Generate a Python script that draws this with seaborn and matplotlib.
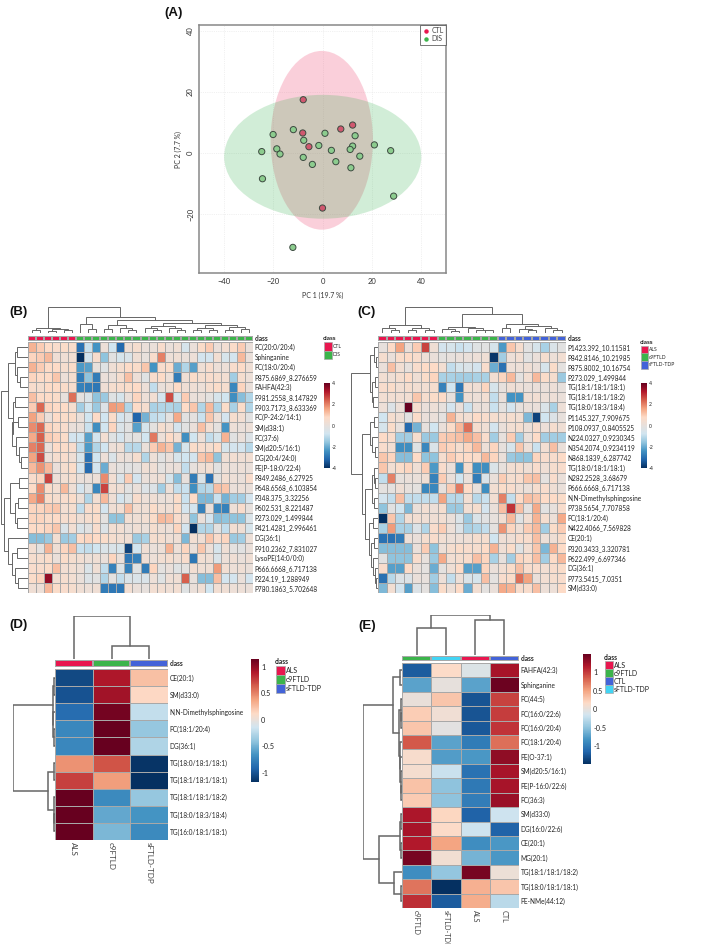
import numpy as np
import pandas as pd
import matplotlib
matplotlib.use('Agg')
import matplotlib.pyplot as plt
import seaborn as sns
from matplotlib.colors import ListedColormap, LinearSegmentedColormap
from matplotlib.patches import Ellipse, Rectangle

W, H = 709, 944

# panel A
ctl_x = [-7.8, -8, -5.5, 7.4, 12.2, 0]
ctl_y = [17.5, 6.6, 2.1, 7.9, 9.2, -18]
dis_x = [-11.8, -20, -7.6, 1, 13.2, -24.6, -18.5, -17.2, -1.5, 3.6, 12.2, 11.2, 21, 27.6, 15.1, -7.8, -4.1, 5.4, 11.5, -24.3, 28.8, -12]
dis_y = [7.7, 6.1, 4.2, 6.5, 5.7, 0.5, 1.4, -0.3, 2.5, 0.9, 2.3, 1.2, 2.7, 0.8, -1, -1.4, -3.7, -2.8, -4.8, -8.4, -14.1, -30.9]
ctl_ellipse = [-0.3, 4.2, 20.7, 29.3]
dis_ellipse = [0.1, -1.2, 39.9, 20.3]

# panel B
b_labels = ['PC(20:0/20:4)', 'Sphinganine', 'PC(18:0/20:4)', 'P875.6869_8.276659', 'FAHFA(42:3)', 'P981.2558_8.147829',
            'P903.7173_8.633369', 'PC(P-24:2/14:1)', 'SM(d38:1)', 'PC(37:6)', 'SM(d20:5/16:1)', 'DG(20:4/24:0)',
            'PE(P-18:0/22:4)', 'P849.2486_6.27925', 'P648.6568_6.103854', 'P348.375_3.32256', 'P602.531_8.221487',
            'P273.029_1.499844', 'P421.4281_2.996461', 'DG(36:1)', 'P910.2362_7.831027', 'LysoPE(14:0/0:0)',
            'P666.6668_6.717138', 'P224.19_1.288949', 'P780.1863_5.702648']
b_classes = ['CTL'] * 6 + ['DIS'] * 22
b_values = [
    [1.4, 1.0, .8, .6, .7, .6, -3.0, -.9, -2.4, .2, -.8, -3.1, .3, .5, .1, .1, .6, .1, .3, -.6, .1, .7, 1.0, .1, .4, .7, 1.0, .1],
    [.9, 1.0, 1.3, .3, .3, .4, -4, -.7, .6, -1.6, -.2, -.6, -.5, .3, 0, .6, 2.0, .2, .3, .1, .2, -.7, -.7, .4, -.6, -.7, 1.3, .1],
    [1.4, 1.0, .8, .8, .5, .7, -2.3, -2.2, 0, -.3, .3, .5, .8, .7, 1.1, -2.4, .6, .7, -2, -1.2, -2.2, .3, .6, .2, .2, .6, .8, .3],
    [.9, .8, .8, 1.1, .2, .5, -2.8, -1.6, -2.8, .1, .1, .5, 1.2, .2, -.3, .6, .8, .2, -2.8, .3, .7, .5, .6, .5, .4, -1.4, .5, .2],
    [.6, .5, .8, .8, .7, .6, -2.7, -2.8, -2.9, .3, .5, .6, .7, .8, .2, -1, .1, .3, .8, .3, .3, .2, .5, .7, .5, -2.6, .9, .1],
    [1.2, .8, .8, .7, 0, 2.2, -.1, -.5, -1.6, -1.5, -.3, -.6, .1, .9, .2, .4, -.7, 2.6, -.6, 1.0, .1, .1, -.1, -.6, -.8, -2.5, -1.7, -1.2],
    [1.0, 2.3, .9, .8, .8, .5, -1.4, -.8, -1.5, -.4, 1.7, 1.6, -1.2, .8, .5, -1.3, -1.2, -1.2, -1.3, .8, 1.1, -1.2, 1.3, -1.2, .7, -1.3, .7, -1.2],
    [1.6, 1.0, .1, .8, .7, .7, .1, -.8, .8, -.8, .7, -.7, -.4, -3.2, -1.9, -1.0, -.9, -.1, 1.5, -.2, -.1, -.9, 1.1, .2, -.7, .5, .4, -.2],
    [1.9, 2.3, .9, .7, .6, .1, .1, -.9, -2.5, -.8, .9, -.5, -.2, -2.2, -.6, -.1, .5, .3, -.7, -.2, .1, 1.2, .4, -.1, -2.4, .2, .1, .2],
    [1.5, 2.4, 1.0, .9, .7, -.7, -.8, -2.2, -.7, .4, -.3, -.7, -.2, -.1, -.8, 2.1, .2, .8, .4, -2.5, -.8, .2, -1, -.6, 1.4, -.2, .1, -.4],
    [2.0, 2.3, .1, .8, .7, .6, -1, -2.3, -1.2, -.8, .2, .3, -1.1, -1.1, .1, 1, 1.4, 1.1, -1.9, -.6, .7, .6, .5, .8, -.6, -.7, -.7, -1.1],
    [1.6, 2.6, .2, .5, .6, .3, -.6, -3.0, -.8, .2, -.5, .2, .1, .5, -1.2, .2, -.2, .1, -.6, -.8, -.7, 1.1, 1.3, -1.6, .3, .4, .3, .4],
    [1.3, 1.8, 1.3, .1, .5, .7, -.7, -3.1, -.7, -2.0, .1, -.1, -.2, -.1, .3, .3, -.1, .1, .1, -1, 0, .3, .4, -.2, .2, .1, .2, .1],
    [.6, .9, 2.7, .2, .4, .5, .1, .1, .2, 1.9, .4, -.5, 1, -.7, .1, .2, .3, -.6, -1.7, 0, -2.8, -.5, -3.0, -.1, .4, .2, .1, .6],
    [.8, 1.9, .7, .4, 1.3, .3, -.7, -.2, -2.6, 2.7, .4, .3, -.2, .1, -.4, -.4, -1.4, .2, -1, -.9, -2.5, -1.2, -1.1, 1.2, 1.1, .1, .2, .1],
    [1.5, 2.0, .7, .5, .6, .7, .2, -1.2, .4, 1.3, .3, -.7, -.3, .6, .2, .3, .1, .2, .7, -.9, .8, -1.8, -1.8, -.9, -1.9, -1.4, -1.4, -.7],
    [.9, .9, 1, 1.1, .4, .5, -1, .6, .7, -.7, .3, .4, 1.2, .4, .3, .7, .4, .3, .7, -.7, -.7, -2.7, .1, -2.6, -2.7, .2, .6, 0],
    [.9, .9, .7, .8, .5, .6, .3, .5, .7, -.1, -1.6, -1.6, .4, .3, .4, .7, 1.3, 1.2, .6, .1, -1.6, .1, -.7, -1.7, -1.6, -1.6, -1.6, -.5],
    [.8, .8, .9, 1.1, -.5, .4, -.5, -.2, .6, -.4, .4, .4, .1, .3, .1, .5, .3, .2, .9, -.7, -4, -1.2, -1.2, -.1, -1.0, .4, .3, -.6],
    [-1.7, -1.7, -1.5, .4, -1.5, -1.4, .8, .9, .8, .7, .5, .4, .3, -1.5, -1.3, .5, .5, .3, .3, -1.8, .4, .3, 1.1, .6, .9, -1.5, -1.4, .2],
    [.4, -.1, 1.4, .3, .9, 1.2, -.9, -1, -.8, -.5, -.5, -.6, -3.7, -.8, .3, .1, .2, 1.4, .2, .9, .1, 1.1, .2, -.6, .3, -.1, -.2, .1],
    [.5, .5, .7, .1, .7, .5, .4, .2, .3, .1, .9, .1, -2.9, -2.7, .3, .2, .4, .5, .3, .6, -2.9, .4, .3, -.5, .2, .3, .1, .3],
    [.6, .6, .7, 1.2, .4, .4, .2, -.5, .3, -1, -2.7, -.5, -2.7, -.3, -2.8, .9, -.1, .1, -.3, -.1, .4, .3, .3, 1.7, .4, .2, .3, .1],
    [.7, .9, 3.5, .4, .5, .4, .1, -.4, -.2, -1.2, -.1, -1, -.5, -.5, -.5, .2, -.3, .3, .3, 2.4, 0, -1.7, -1.7, 1.2, -.7, -.7, .1, -.7],
    [.3, .2, 1.3, .7, .6, .5, .3, .2, .3, -2.8, -2.9, -2.9, .4, .1, 0, .4, .4, .3, .4, -.3, .1, .3, -.8, .4, .3, .2, .2, .1],
]
# merge trees: (height, left, right), 0 is a leaf
b_col_tree = (78, (16, (8, 0, 0), (12, (6, 0, 0), (8, 0, 0))),
              (48, (28, 0, (12, 0, 0)),
               (38, (25, (12, 0, 0), (15, 0, (10, 0, 0))),
                (30, (20, (14, 0, (10, 0, 0)), (16, 0, (9, 0, 0))),
                 (24, (14, (8, 0, 0), (10, 0, 0)), (18, (10, 0, 0), (13, 0, 0)))))))
b_row_tree = (83, (60, (38, (32, 0, 0), (33, 0, (25, 0, 0))),
                   (47, (38, 0, 0), (48, (30, 0, 0), (35, 0, (27, 0, (22, 0, 0)))))),
              (72, (55, (28, 0, 0), (40, (30, 0, 0), (33, 0, 0))),
               (60, 0, (48, (33, 0, 0), (38, 0, (30, 0, 0))))))

# panel C
c_labels = ['P1423.392_10.11581', 'P842.8146_10.21985', 'P875.8002_10.16754', 'P273.029_1.499844', 'TG(18:1/18:1/18:1)',
            'TG(18:1/18:1/18:2)', 'TG(18:0/18:3/18:4)', 'P1145.327_7.909675', 'P108.0937_0.8405525', 'N224.0327_0.9230345',
            'N354.2074_0.9234119', 'N868.1839_6.287742', 'TG(18:0/18:1/18:1)', 'N282.2528_3.68679', 'P666.6668_6.717138',
            'N,N-Dimethylsphingosine', 'P738.5654_7.707858', 'PC(18:1/20:4)', 'N422.4066_7.569828', 'CE(20:1)',
            'P320.3433_3.320781', 'P622.499_6.697346', 'DG(36:1)', 'P773.5415_7.0351', 'SM(d33:0)']
c_classes = ['ALS'] * 7 + ['c9FTLD'] * 7 + ['sFTLD-TDP'] * 8
c_values = [
    [0, .8, 1.6, .1, 1.0, 2.7, .3, -.7, -.6, -.9, -.7, -.3, -.2, -.6, -2.3, 1.1, .5, -.2, -.6, -1.3, -.5, -.2],
    [.5, .1, .7, .8, .6, .2, .1, -.1, 0, .1, .1, .2, .3, -3.9, -1.4, .2, .4, -.2, .1, .5, .2, .4],
    [.1, 1.2, .4, 0, .6, .8, .8, .4, -1.0, -.6, -.5, -.7, .6, -2, -3, .2, .2, .3, .1, -.6, .7, -.1],
    [.4, .3, .5, .8, .3, .7, .9, -1.3, -1.3, -1.4, -1.4, -1.3, -1.3, .4, .9, 1.3, -.1, .4, 1.3, .7, .5, -1.5],
    [.6, .7, .4, .5, .4, .4, .5, -2.7, -.8, -2.9, .4, .3, .9, -.6, 0, .3, .2, .1, .1, .1, .2, 0],
    [.4, .4, .4, .4, 1.1, .5, .7, .8, 0, -2.4, .3, .2, .4, -1, .1, -2.4, -2.4, .3, .4, .2, .2, .1],
    [.2, -.4, .2, 4, .5, .1, .2, 0, -.7, .1, -.9, .1, .1, -.9, -.1, -.7, 0, .1, .1, -.5, -1.3, .2],
    [-.8, .5, .3, -.2, .7, .1, .1, -.1, 1.4, .5, .4, .8, .6, .5, .4, .5, .4, -1.8, -3.7, -.8, -.4, 0],
    [-.6, .7, 0, -3.1, -1.9, 0, -.8, .1, .7, 1.3, 2.2, .5, .3, -.7, .1, .4, .5, .2, .6, .2, .5, .3],
    [.8, .6, -1.4, -1.4, .5, -1.5, -1.5, 1, 1.1, 1.2, 1.5, 1.2, .6, -1.4, 0, 1, -1.4, .1, .8, -1.4, -1.4, -1.4],
    [.6, .4, -2.5, -2.5, -.3, -2.6, -.5, 1, .9, .5, .9, 1.3, .2, .9, 0, -.6, 1.1, .2, -.9, .4, 1.2, .1],
    [1.1, .9, -1.7, -1.7, .8, -1.6, -1.6, .5, 1, .8, .8, .7, 1.3, .9, .1, -1.5, -1.6, -1.6, .9, .6, .6, .8],
    [1.1, .4, .7, .9, .3, 1.0, -2.3, .6, .1, -2.4, .5, -2.5, -2.5, -.5, 0, .4, .5, .3, .6, .3, .5, .6],
    [-1, 2, 0, .1, .1, .3, -2.7, 1, .1, -.8, .1, -2.8, -.5, .1, 1.0, .5, .6, 1.1, 1.2, -.1, .6, .1],
    [-.1, -.1, .3, 0, -.1, -2.6, -2.6, 0, 1, 2.1, .8, 0, -2.5, .4, .7, .6, .3, .1, .5, .6, .3, .1],
    [-.7, -1, 1.2, -1, -1, -1, -1, 1.6, -1.1, -1.1, .4, -1.1, -.9, .4, 2, -1, .8, 1.2, 1.1, .8, .8, .7],
    [-1.6, -.2, -.8, -1.8, .1, .4, .2, .5, -1.5, -1.5, .4, .5, -.7, .1, 1.2, 2.9, 1.2, -.1, 1.5, -.2, 0, .6],
    [-4, 1.1, -1.2, .4, .4, .3, .3, .4, .1, -.5, -1.5, -.5, -.2, 0, .4, 1.3, -.3, .4, 1.4, .5, .2, 1.5],
    [-1.3, 1.7, -1.3, -1.3, -.4, -1.2, .6, 1.0, .2, -.4, -1.3, -1.2, -1, -.1, 1.8, .9, .3, 1, 1.3, -1.4, .7, 1.0],
    [-3, -3, -2.8, .2, .1, .5, .6, .4, .2, .2, .3, .5, .5, -.8, .3, .3, .6, .6, 1.2, .2, .3, .7],
    [-1.7, -1.7, -1.7, -1.7, .1, 1.0, -1.6, .2, .5, .7, .6, .5, .8, 1.4, .3, .7, -.3, .4, 1.1, -1.8, 1.4, .8],
    [-.2, -1.6, -1.6, -1.6, .6, 0, -1.5, 1.5, .4, .5, .6, 1.2, .9, -1.3, 0, -1.4, .9, .7, 1.2, -1.4, .8, 1.3],
    [.6, -2.2, -2.2, .8, .1, -.1, -2, -.1, .3, .8, -2.2, -2.2, .9, .1, .4, .7, 1.2, .6, .6, .4, .6, .7],
    [-3, -1.1, -.4, -.4, .1, 0, -1.4, .2, -1, .2, -.5, -.6, 1.2, -.1, .6, .7, 2.2, 1.6, .1, .4, .5, .6],
    [-1.8, .4, -.7, -2.2, -.4, -.1, -1.7, .7, .2, .8, -2, .4, -.1, .1, 1.5, 1.4, .6, .6, 1.2, .2, .2, .8],
]
c_col_tree = (80, (25, (15, 0, (10, 0, 0)), (16, (10, 0, 0), (8, 0, 0))),
              (60, (20, (12, 0, (7, 0, 0)), (14, 0, (10, 0, (8, 0, 0)))),
               (28, (14, 0, 0), (22, (12, 0, (8, 0, 0)), (15, 0, (9, 0, 0))))))
c_row_tree = (83, (25, (12, 0, (7, 0, 0)), (18, (10, 0, 0), (15, 0, 0))),
              (50, (23, (13, 0, 0), (18, 0, (10, 0, 0))),
               (38, (17, (12, 0, (8, 0, 0)), (12, 0, 0)),
                (27, (14, 0, 0), (20, (11, 0, 0), (15, 0, (9, 0, (6, 0, 0))))))))

# panel D
d_labels = ['CE(20:1)', 'SM(d33:0)', 'N,N-Dimethylsphingosine', 'PC(18:1/20:4)', 'DG(36:1)', 'TG(18:0/18:1/18:1)',
            'TG(18:1/18:1/18:1)', 'TG(18:1/18:1/18:2)', 'TG(18:0/18:3/18:4)', 'TG(16:0/18:1/18:1)']
d_groups = ['ALS', 'c9FTLD', 'sFTLD-TDP']
d_values = [
    [-1.05, 0.9, 0.25], [-1.0, 0.95, 0.13], [-0.87, 1.1, -0.2], [-0.72, 1.15, -0.38], [-0.72, 1.15, -0.28],
    [0.45, 0.67, -1.15], [0.75, 0.4, -1.17], [1.15, -0.7, -0.38], [1.15, -0.55, -0.65], [1.15, -0.47, -0.7],
]
d_col_tree = (130, 0, (40, 0, 0))
d_row_tree = (128, (6, (4, 0, 0), (5, 0, (4, 0, 0))), (21, (3, 0, 0), (4, 0, (2, 0, 0))))

# panel E
e_labels = ['FAHFA(42:3)', 'Sphinganine', 'PC(44:5)', 'PC(16:0/22:6)', 'PC(16:0/20:4)', 'PC(18:1/20:4)', 'PE(O-37:1)',
            'SM(d20:5/16:1)', 'PE(P-16:0/22:6)', 'PC(36:3)', 'SM(d33:0)', 'DG(16:0/22:6)', 'CE(20:1)', 'MG(20:1)',
            'TG(18:1/18:1/18:2)', 'TG(18:0/18:1/18:1)', 'PE-NMe(44:12)']
e_groups = ['c9FTLD', 'sFTLD-TDP', 'ALS', 'CTL']
e_values = [
    [-1.2, 0.16, -0.08, 1.2], [-0.72, 0.0, -0.72, 1.45], [0.02, 0.3, -1.25, 0.95], [0.25, 0.07, -1.25, 0.98],
    [0.3, -0.03, -1.22, 1.02], [0.85, -0.72, -0.98, 0.75], [0.13, -0.75, -0.78, 1.3], [0.1, -0.2, -1.05, 1.2],
    [0.32, -0.5, -1.0, 1.2], [0.27, -0.5, -0.97, 1.25], [1.18, 0.2, -1.15, -0.17], [1.2, 0.16, -0.17, -1.15],
    [1.15, 0.5, -0.85, -0.78], [1.4, 0.08, -0.6, -0.78], [-0.85, -0.47, 1.4, 0.05], [0.72, -1.47, 0.42, 0.3],
    [1.05, -1.2, 0.45, -0.28],
]
e_col_tree = (119, (80, 0, 0), (105, 0, 0))
e_row_tree = (115, (27, (5, 0, 0), (8, (3, 0, (2, 0, 0)), (6, 0, (5, 0, (4, 0, (3, 0, 0)))))),
              (67, (5, (3, 0, 0), (4, 0, 0)), (25, 0, (3, 0, 0))))

class_colors = {'CTL': '#e8174f', 'DIS': '#3cb44b', 'ALS': '#e8174f', 'c9FTLD': '#3cb44b', 'sFTLD-TDP': '#4363d8'}
e_colors = {'ALS': '#e8174f', 'c9FTLD': '#3cb44b', 'CTL': '#4363d8', 'sFTLD-TDP': '#42d4f4'}

# ten class RdBu without a white middle
rdbu10 = ['#053061', '#2166ac', '#4393c3', '#92c5de', '#d1e5f0', '#fddbc7', '#f4a582', '#d6604d', '#b2182b', '#67001f']
cmap_small = LinearSegmentedColormap.from_list('rdbu10', rdbu10)
cmap_big = LinearSegmentedColormap.from_list('rdbu10w', [
    (0, '#053061'), (0.1, '#2166ac'), (0.2, '#4393c3'), (0.3, '#92c5de'), (0.4, '#d1e5f0'), (0.5, '#e7e0dc'),
    (0.6, '#fddbc7'), (0.7, '#f4a582'), (0.8, '#d6604d'), (0.9, '#b2182b'), (1, '#67001f')])

sns.set_theme(style='white')
plt.rcParams['font.family'] = ['Lato', 'DejaVu Sans']
fig = plt.figure(figsize=(W / 100, H / 100), dpi=100)


def px_axes(x0, y0, x1, y1):
    return fig.add_axes([x0 / W, 1 - y1 / H, (x1 - x0) / W, (y1 - y0) / H])


def px_text(x, y, s, **kw):
    kw.setdefault('color', '#222222')
    kw.setdefault('va', 'center')
    return fig.text(x / W, 1 - y / H, s, **kw)


def px_rect(x0, y0, x1, y1, color):
    fig.add_artist(Rectangle((x0 / W, 1 - y1 / H), (x1 - x0) / W, (y1 - y0) / H, transform=fig.transFigure,
                             facecolor=color, edgecolor='#aaaaaa', linewidth=0.5))


def draw_tree(ax, tree, side, lw):
    counter = [0]

    def walk(node):
        if node == 0:
            counter[0] += 1
            return counter[0] - 0.5, 0
        h, left, right = node
        pl, hl = walk(left)
        pr, hr = walk(right)
        if side == 'top':
            ax.plot([pl, pl, pr, pr], [hl, h, h, hr], color='#666666', lw=lw, solid_joinstyle='miter')
        else:
            ax.plot([hl, h, h, hr], [pl, pl, pr, pr], color='#666666', lw=lw, solid_joinstyle='miter')
        return (pl + pr) / 2, h

    walk(tree)
    if side == 'top':
        ax.set_xlim(0, counter[0])
    else:
        ax.set_ylim(counter[0], 0)
    ax.axis('off')


def heat_panel(values, labels, classes, colors, box, ann_y, col_box, row_box, col_tree, row_tree, cbar_box, ticks,
               vmin, vmax, col_scale, row_scale, lw, fs, cfs, cmap, grid='#a8a8a8', bottom=None):
    df = pd.DataFrame(values, index=labels)
    ax = px_axes(*box)
    cax = px_axes(*cbar_box)
    sns.heatmap(df, ax=ax, cmap=cmap, vmin=vmin, vmax=vmax, linewidths=0.5, linecolor=grid, cbar_ax=cax,
                cbar_kws={'ticks': ticks}, xticklabels=False, yticklabels=True)
    ax.yaxis.tick_right()
    ax.set_ylabel('')
    ax.tick_params(axis='y', length=0, pad=1.2, labelsize=fs, labelrotation=0, labelcolor='#222222')
    cax.tick_params(length=0, pad=1.5, labelsize=cfs, labelcolor='#222222')
    cax.set_yticklabels([f'{t:g}' for t in ticks])
    ax.collections[0].colorbar.outline.set_visible(False)

    # class bar above the cells
    names = list(dict.fromkeys(classes))
    codes = [[names.index(c) for c in classes]]
    bar = px_axes(box[0], ann_y[0], box[2], ann_y[1])
    sns.heatmap(codes, ax=bar, cmap=ListedColormap([colors[n] for n in names]), vmin=-0.5, vmax=len(names) - 0.5,
                cbar=False, xticklabels=False, yticklabels=False, linewidths=0.3, linecolor=grid)
    px_text(box[2] + 1.5, (ann_y[0] + ann_y[1]) / 2, 'class', fontsize=fs, fontweight='bold')

    top = px_axes(*col_box)
    draw_tree(top, col_tree, 'top', lw)
    top.set_ylim(0, col_scale)
    left = px_axes(*row_box)
    draw_tree(left, row_tree, 'left', lw)
    left.set_xlim(row_scale, 0)

    if bottom is not None:
        for i, name in enumerate(classes):
            cx = box[0] + (i + 0.5) * (box[2] - box[0]) / len(classes)
            px_text(cx, box[3] + 1.5, name, rotation=270, ha='center', va='top', fontsize=bottom, color='#444444')


def class_legend(x, y, names, colors, sw_w, sw_h, fs, title_fs):
    px_text(x - 1, y, 'class', fontsize=title_fs, fontweight='bold')
    for i, n in enumerate(names):
        y0 = y + 4 + i * sw_h
        px_rect(x, y0, x + sw_w, y0 + sw_h, colors[n])
        px_text(x + sw_w + 1, y0 + sw_h / 2, n, fontsize=fs)


# (A) PCA score plot
ax_a = px_axes(199, 25, 446, 273)
ax_a.add_patch(Ellipse(ctl_ellipse[:2], ctl_ellipse[2] * 2, ctl_ellipse[3] * 2, facecolor='#ee3a68', alpha=0.24, lw=0))
ax_a.add_patch(Ellipse(dis_ellipse[:2], dis_ellipse[2] * 2, dis_ellipse[3] * 2, facecolor='#30b04a', alpha=0.22, lw=0))
scores = pd.DataFrame({'pc1': ctl_x + dis_x, 'pc2': ctl_y + dis_y, 'group': ['CTL'] * len(ctl_x) + ['DIS'] * len(dis_x)})
sns.scatterplot(data=scores, x='pc1', y='pc2', hue='group', palette={'CTL': '#d0586f', 'DIS': '#8ccc8e'}, s=20,
                edgecolor='#3c4a40', linewidth=0.7, ax=ax_a, legend=False, zorder=3)
ax_a.set_xlim(-50, 50)
ax_a.set_ylim(-39.3, 42)
ax_a.set_xticks([-40, -20, 0, 20, 40])
ax_a.set_yticks([-20, 0, 20, 40])
ax_a.grid(True, color='#e4e4e4', lw=0.5, ls=':')
ax_a.set_axisbelow(True)
ax_a.tick_params(axis='both', length=2, width=0.5, color='#666666', pad=1.5, labelsize=5.5, labelcolor='#333333')
for t in ax_a.get_yticklabels():
    t.set_rotation(90)
    t.set_va('center')
for s in ax_a.spines.values():
    s.set_color('#888888')
    s.set_linewidth(1.1)
ax_a.set_xlabel('PC 1 (19.7 %)', fontsize=5, labelpad=5, color='#333333')
ax_a.set_ylabel('PC 2 (7.7 %)', fontsize=5, labelpad=4, color='#333333')
handles = [plt.Line2D([], [], ls='', marker='o', ms=2.2, color=class_colors[n], label=n) for n in ['CTL', 'DIS']]
leg = ax_a.legend(handles=handles, loc='upper right', fontsize=5, frameon=True, fancybox=False, borderaxespad=0,
                  handletextpad=0.1, labelspacing=0.1, borderpad=0.35, handlelength=1.2, labelcolor='#444444')
leg.get_frame().set_edgecolor('#555555')
leg.get_frame().set_linewidth(0.7)

# (B)
heat_panel(b_values, b_labels, b_classes, class_colors, (28, 342, 253, 593), (336, 341), (28, 307, 253, 333),
           (0, 342, 28, 593), b_col_tree, b_row_tree, (324, 383, 330, 468), [4, 2, 0, -2, -4], -4, 4, 78, 85, 0.7, 4.7, 3.6,
           cmap_big)
class_legend(324, 338, ['CTL', 'DIS'], class_colors, 7.5, 8.5, 3.6, 4.6)

# (C)
heat_panel(c_values, c_labels, c_classes, class_colors, (378, 342, 566, 593), (336, 341), (378, 307, 566, 333),
           (350, 342, 378, 593), c_col_tree, c_row_tree, (641, 383, 647, 468), [4, 2, 0, -2, -4], -4, 4, 80, 85, 0.7, 4.7, 3.6,
           cmap_big)
class_legend(641, 342, ['ALS', 'c9FTLD', 'sFTLD-TDP'], class_colors, 6.5, 7.5, 3.6, 4.6)

# (D)
heat_panel(d_values, d_labels, d_groups, class_colors, (55, 669, 168, 840), (660, 667), (55, 616, 168, 659),
           (13, 669, 55, 840), d_col_tree, d_row_tree, (251, 659, 259, 782), [1, 0.5, 0, -0.5, -1], -1.17, 1.15, 130, 128,
           1.1, 4.7, 5.2, cmap_small, bottom=5.8)
class_legend(276, 662, d_groups, class_colors, 9, 9, 5, 4.8)

# (E)
heat_panel(e_values, e_labels, e_groups, e_colors, (402, 663, 519, 908), (656, 661), (402, 615, 519, 655),
           (363, 663, 402, 908), e_col_tree, e_row_tree, (583, 654, 591, 764), [1, 0.5, 0, -0.5, -1], -1.47, 1.48, 119, 115,
           1.1, 4.7, 5.2, cmap_small, bottom=5.2)
class_legend(605, 657, ['ALS', 'c9FTLD', 'CTL', 'sFTLD-TDP'], e_colors, 8, 8, 5, 4.8)

for x, y, s in [(174, 13, '(A)'), (19, 312, '(B)'), (367, 312, '(C)'), (19, 625, '(D)'), (367, 626, '(E)')]:
    px_text(x, y, s, fontsize=9.5, fontweight='bold', ha='center', family=['Liberation Sans', 'DejaVu Sans'], color='#111111')

fig.savefig('out.png', dpi=100)
